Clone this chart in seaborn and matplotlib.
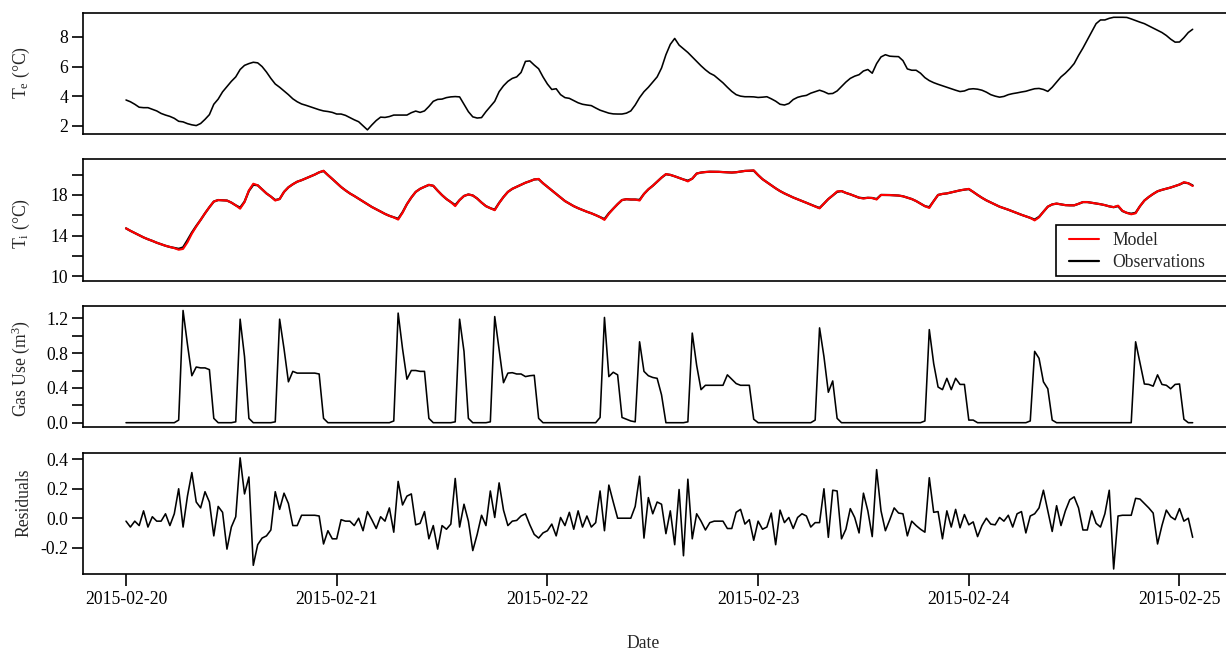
import numpy as np
import pandas as pd
import matplotlib
matplotlib.use("Agg")
import matplotlib.pyplot as plt
from matplotlib.ticker import FixedLocator, FuncFormatter
from matplotlib.patches import Rectangle
import matplotlib.dates as mdates
import seaborn as sns

# ---------------- data (30-minute samples from 2015-02-20 00:00) ----------------
start_time = "2015-02-20 00:00"
step = "30min"

te = [3.74, 3.62, 3.45, 3.25, 3.22, 3.22, 3.11, 3.00, 2.83, 2.72,
      2.63, 2.50, 2.30, 2.26, 2.14, 2.06, 2.01, 2.15, 2.43, 2.75,
      3.45, 3.80, 4.29, 4.65, 5.00, 5.30, 5.80, 6.08, 6.20, 6.29,
      6.25, 6.00, 5.63, 5.20, 4.82, 4.60, 4.35, 4.10, 3.82, 3.62,
      3.47, 3.38, 3.28, 3.18, 3.08, 3.00, 2.96, 2.90, 2.79, 2.79,
      2.70, 2.55, 2.40, 2.27, 2.00, 1.72, 2.05, 2.35, 2.58, 2.56,
      2.62, 2.72, 2.72, 2.72, 2.72, 2.88, 2.99, 2.90, 3.00, 3.30,
      3.65, 3.78, 3.80, 3.90, 3.95, 3.97, 3.95, 3.45, 2.95, 2.60,
      2.52, 2.55, 2.95, 3.30, 3.65, 4.30, 4.70, 5.00, 5.20, 5.30,
      5.60, 6.35, 6.38, 6.10, 5.85, 5.30, 4.82, 4.45, 4.50, 4.10,
      3.90, 3.85, 3.70, 3.55, 3.45, 3.40, 3.36, 3.20, 3.05, 2.95,
      2.85, 2.80, 2.79, 2.79, 2.85, 3.00, 3.40, 3.90, 4.30, 4.60,
      4.95, 5.30, 5.90, 6.80, 7.50, 7.90, 7.45, 7.20, 6.95, 6.65,
      6.35, 6.05, 5.78, 5.55, 5.40, 5.15, 4.90, 4.60, 4.32, 4.10,
      4.00, 3.96, 3.96, 3.95, 3.91, 3.93, 3.96, 3.82, 3.66, 3.45,
      3.40, 3.50, 3.77, 3.92, 4.00, 4.05, 4.20, 4.30, 4.40, 4.30,
      4.16, 4.18, 4.35, 4.65, 4.95, 5.20, 5.35, 5.45, 5.70, 5.80,
      5.55, 6.20, 6.65, 6.80, 6.70, 6.68, 6.67, 6.40, 5.84, 5.75,
      5.75, 5.55, 5.25, 5.05, 4.91, 4.80, 4.70, 4.60, 4.50, 4.40,
      4.31, 4.35, 4.47, 4.50, 4.47, 4.40, 4.27, 4.10, 4.00, 3.93,
      3.98, 4.10, 4.17, 4.22, 4.28, 4.33, 4.42, 4.50, 4.52, 4.45,
      4.32, 4.60, 4.95, 5.30, 5.55, 5.85, 6.20, 6.75, 7.25, 7.80,
      8.35, 8.90, 9.15, 9.15, 9.26, 9.33, 9.33, 9.33, 9.32, 9.22,
      9.11, 9.00, 8.90, 8.75, 8.60, 8.45, 8.30, 8.10, 7.85, 7.65,
      7.66, 7.95, 8.30, 8.52]

ti_obs = [14.72, 14.48, 14.26, 14.04, 13.83, 13.65, 13.49, 13.31, 13.16, 13.01,
          12.89, 12.80, 12.71, 12.85, 13.55, 14.30, 14.95, 15.55, 16.20, 16.80,
          17.35, 17.50, 17.47, 17.45, 17.25, 16.98, 16.75, 17.34, 18.40, 19.00,
          18.95, 18.55, 18.15, 17.84, 17.50, 17.60, 18.30, 18.75, 19.05, 19.30,
          19.45, 19.63, 19.80, 20.00, 20.22, 20.35, 19.95, 19.57, 19.17, 18.78,
          18.45, 18.15, 17.90, 17.63, 17.37, 17.10, 16.82, 16.60, 16.37, 16.14,
          15.95, 15.80, 15.66, 16.30, 17.10, 17.75, 18.30, 18.60, 18.80, 18.98,
          18.90, 18.42, 17.98, 17.60, 17.30, 17.00, 17.50, 17.90, 18.05, 17.95,
          17.65, 17.25, 16.90, 16.70, 16.55, 17.22, 17.80, 18.30, 18.60, 18.80,
          19.00, 19.20, 19.35, 19.52, 19.55, 19.15, 18.80, 18.45, 18.10, 17.75,
          17.40, 17.15, 16.90, 16.70, 16.52, 16.35, 16.20, 16.02, 15.82, 15.63,
          16.20, 16.65, 17.10, 17.50, 17.58, 17.55, 17.55, 17.52, 18.10, 18.55,
          18.90, 19.30, 19.70, 20.03, 19.97, 19.83, 19.67, 19.52, 19.40, 19.60,
          20.10, 20.20, 20.25, 20.28, 20.28, 20.27, 20.24, 20.22, 20.20, 20.23,
          20.30, 20.36, 20.38, 20.39, 19.95, 19.55, 19.25, 18.95, 18.65, 18.38,
          18.15, 17.95, 17.75, 17.58, 17.40, 17.23, 17.05, 16.88, 16.72, 17.15,
          17.60, 17.95, 18.30, 18.38, 18.20, 18.06, 17.90, 17.73, 17.68, 17.72,
          17.70, 17.60, 18.00, 18.00, 17.99, 17.96, 17.94, 17.87, 17.73, 17.60,
          17.40, 17.15, 16.90, 16.80, 17.40, 18.00, 18.10, 18.15, 18.25, 18.35,
          18.45, 18.52, 18.57, 18.30, 18.00, 17.72, 17.47, 17.26, 17.05, 16.85,
          16.70, 16.55, 16.38, 16.22, 16.05, 15.90, 15.75, 15.58, 15.85, 16.35,
          16.85, 17.07, 17.15, 17.08, 17.00, 16.98, 16.98, 17.13, 17.30, 17.30,
          17.23, 17.16, 17.09, 17.00, 16.88, 16.80, 16.90, 16.42, 16.24, 16.16,
          16.25, 16.90, 17.45, 17.80, 18.10, 18.36, 18.50, 18.62, 18.73, 18.88,
          19.02, 19.22, 19.15, 18.93]

ti_model = [14.72, 14.48, 14.26, 14.04, 13.83, 13.65, 13.49, 13.31, 13.16, 13.01,
            12.89, 12.78, 12.62, 12.70, 13.35, 14.20, 14.90, 15.55, 16.20, 16.80,
            17.35, 17.50, 17.47, 17.45, 17.25, 16.98, 16.65, 17.30, 18.45, 19.10,
            18.95, 18.55, 18.15, 17.84, 17.45, 17.60, 18.30, 18.75, 19.05, 19.30,
            19.45, 19.63, 19.80, 20.00, 20.22, 20.38, 19.95, 19.57, 19.17, 18.78,
            18.45, 18.15, 17.90, 17.63, 17.37, 17.10, 16.82, 16.60, 16.37, 16.14,
            15.95, 15.80, 15.58, 16.25, 17.10, 17.75, 18.30, 18.60, 18.80, 19.00,
            18.90, 18.42, 17.98, 17.60, 17.30, 16.90, 17.50, 17.90, 18.05, 17.95,
            17.65, 17.25, 16.90, 16.70, 16.50, 17.20, 17.80, 18.30, 18.60, 18.80,
            19.00, 19.20, 19.35, 19.52, 19.58, 19.15, 18.80, 18.45, 18.10, 17.75,
            17.40, 17.15, 16.90, 16.70, 16.52, 16.35, 16.20, 16.02, 15.82, 15.55,
            16.15, 16.65, 17.10, 17.50, 17.58, 17.55, 17.55, 17.45, 18.10, 18.55,
            18.90, 19.30, 19.70, 20.05, 19.97, 19.83, 19.67, 19.52, 19.33, 19.60,
            20.10, 20.20, 20.25, 20.28, 20.28, 20.27, 20.24, 20.22, 20.20, 20.23,
            20.30, 20.36, 20.38, 20.42, 19.95, 19.55, 19.25, 18.95, 18.65, 18.38,
            18.15, 17.95, 17.75, 17.58, 17.40, 17.23, 17.05, 16.88, 16.68, 17.15,
            17.60, 17.95, 18.35, 18.38, 18.20, 18.06, 17.90, 17.73, 17.65, 17.72,
            17.70, 17.55, 18.00, 18.00, 17.99, 17.96, 17.94, 17.87, 17.73, 17.60,
            17.40, 17.15, 16.90, 16.72, 17.40, 18.00, 18.10, 18.15, 18.25, 18.35,
            18.45, 18.52, 18.60, 18.30, 18.00, 17.72, 17.47, 17.26, 17.05, 16.85,
            16.70, 16.55, 16.38, 16.22, 16.05, 15.90, 15.75, 15.50, 15.80, 16.35,
            16.85, 17.07, 17.15, 17.08, 17.00, 16.98, 16.98, 17.13, 17.30, 17.30,
            17.23, 17.16, 17.09, 17.00, 16.88, 16.80, 16.95, 16.45, 16.24, 16.10,
            16.20, 16.90, 17.45, 17.80, 18.10, 18.36, 18.50, 18.62, 18.73, 18.88,
            19.02, 19.25, 19.15, 18.88]

gas = [0, 0, 0, 0, 0, 0, 0, 0, 0, 0,
       0, 0, 0.03, 1.29, 0.90, 0.54, 0.64, 0.63, 0.63, 0.61,
       0.05, 0, 0, 0, 0, 0.01, 1.19, 0.76, 0.05, 0,
       0, 0, 0, 0, 0.01, 1.19, 0.85, 0.47, 0.59, 0.57,
       0.57, 0.57, 0.57, 0.57, 0.56, 0.05, 0, 0, 0, 0,
       0, 0, 0, 0, 0, 0, 0, 0, 0, 0,
       0, 0.02, 1.26, 0.85, 0.50, 0.60, 0.60, 0.59, 0.59, 0.05,
       0, 0, 0, 0, 0, 0.01, 1.19, 0.82, 0.05, 0,
       0, 0, 0, 0.01, 1.22, 0.84, 0.46, 0.57, 0.575, 0.56,
       0.56, 0.53, 0.54, 0.545, 0.05, 0, 0, 0, 0, 0,
       0, 0, 0, 0, 0, 0, 0, 0, 0.06, 1.21,
       0.53, 0.58, 0.55, 0.06, 0.04, 0.02, 0.01, 0.93, 0.59, 0.54,
       0.52, 0.51, 0.32, 0, 0, 0, 0, 0, 0.01, 1.03,
       0.66, 0.38, 0.43, 0.43, 0.43, 0.43, 0.43, 0.55, 0.50, 0.45,
       0.43, 0.43, 0.43, 0.04, 0, 0, 0, 0, 0, 0,
       0, 0, 0, 0, 0, 0, 0, 0.03, 1.09, 0.76,
       0.35, 0.48, 0.05, 0, 0, 0, 0, 0, 0, 0,
       0, 0, 0, 0, 0, 0, 0, 0, 0, 0,
       0, 0, 0.02, 1.07, 0.68, 0.41, 0.38, 0.51, 0.38, 0.51,
       0.44, 0.44, 0.03, 0.03, 0, 0, 0, 0, 0, 0,
       0, 0, 0, 0, 0, 0, 0.02, 0.82, 0.74, 0.47,
       0.39, 0.03, 0, 0, 0, 0, 0, 0, 0, 0,
       0, 0, 0, 0, 0, 0, 0, 0, 0, 0,
       0.93, 0.69, 0.445, 0.44, 0.42, 0.55, 0.44, 0.43, 0.39, 0.44,
       0.445, 0.04, 0, 0]

resid = [-0.02, -0.06, -0.02, -0.05, 0.05, -0.06, 0.01, -0.02, -0.02, 0.03,
         -0.05, 0.03, 0.20, -0.06, 0.15, 0.31, 0.11, 0.07, 0.18, 0.11,
         -0.12, 0.08, 0.04, -0.21, -0.06, 0.01, 0.41, 0.165, 0.28, -0.32,
         -0.18, -0.135, -0.12, -0.08, 0.18, 0.06, 0.17, 0.10, -0.05, -0.05,
         0.02, 0.02, 0.02, 0.02, 0.015, -0.175, -0.085, -0.14, -0.14, -0.01,
         -0.02, -0.02, -0.05, 0.0, -0.085, 0.045, -0.01, -0.07, 0.01, -0.02,
         0.07, -0.095, 0.25, 0.09, 0.15, 0.165, -0.045, -0.035, 0.045, -0.14,
         -0.05, -0.21, -0.05, -0.075, -0.04, 0.27, -0.06, 0.095, -0.02, -0.22,
         -0.11, 0.02, -0.05, 0.185, 0.005, 0.24, 0.055, -0.05, -0.02, -0.015,
         0.015, 0.03, -0.045, -0.11, -0.135, -0.10, -0.085, -0.04, -0.12, 0.005,
         -0.05, 0.04, -0.075, 0.05, -0.06, 0.015, -0.06, -0.03, 0.185, -0.085,
         0.225, 0.11, 0.0, 0.0, 0.0, 0.0, 0.08, 0.285, -0.135, 0.14,
         0.03, 0.11, 0.095, -0.105, 0.05, -0.18, 0.195, -0.255, 0.265, -0.14,
         0.03, -0.02, -0.08, -0.03, -0.02, -0.02, -0.02, -0.07, -0.07, 0.04,
         0.06, -0.04, -0.01, -0.15, -0.02, -0.075, -0.06, 0.035, -0.18, 0.055,
         -0.03, 0.005, -0.07, 0.005, 0.03, 0.015, -0.06, -0.03, -0.03, 0.20,
         -0.13, 0.19, 0.185, -0.14, -0.075, 0.065, 0.005, -0.10, 0.17, 0.05,
         -0.125, 0.33, 0.05, -0.085, -0.01, 0.07, 0.035, 0.03, -0.12, -0.02,
         -0.05, -0.075, -0.095, 0.275, 0.04, 0.045, -0.14, 0.05, -0.06, 0.06,
         -0.065, 0.025, -0.045, -0.025, -0.125, -0.05, 0.0, -0.04, -0.045, 0.005,
         -0.02, 0.02, -0.06, 0.03, 0.045, -0.10, 0.015, 0.03, 0.07, 0.19,
         0.05, -0.09, 0.085, -0.05, 0.05, 0.125, 0.145, 0.07, -0.08, -0.08,
         0.05, -0.035, -0.06, 0.03, 0.19, -0.345, 0.015, 0.02, 0.02, 0.02,
         0.135, 0.13, 0.10, 0.07, 0.035, -0.175, -0.05, 0.055, 0.01, -0.01,
         0.065, -0.02, 0.0, -0.13]

date_ticks = ["2015-02-20", "2015-02-21", "2015-02-22", "2015-02-23", "2015-02-24", "2015-02-25"]

te_label = r"T$_\mathrm{e}$ (°C)"
ti_label = r"T$_\mathrm{i}$ (°C)"
gas_label = r"Gas Use (m$^\mathrm{3}$)"
res_label = "Residuals"
x_label = "Date"
legend_labels = ["Model", "Observations"]

# ---------------- build frame ----------------
times = pd.date_range(start_time, periods=len(te), freq=step)
df = pd.DataFrame({"Date": times, "Te": te, "TiObs": ti_obs, "TiModel": ti_model,
                   "Gas": gas, "Resid": resid})

sns.set_style("ticks")
plt.rcParams["font.family"] = ["Liberation Serif", "DejaVu Serif"]
plt.rcParams["mathtext.fontset"] = "custom"
plt.rcParams["mathtext.rm"] = "Liberation Serif"
plt.rcParams["mathtext.it"] = "Liberation Serif:italic"
plt.rcParams["axes.linewidth"] = 1.2

FS = 12.7
W, H = 1226, 651
LEFT, RIGHT = 83, 1240      # axes run past the right edge of the image
fig = plt.figure(figsize=(W / 100, H / 100), dpi=100)


def rect(top, bottom, left=LEFT, right=RIGHT):
    return [left / W, 1 - bottom / H, (right - left) / W, (bottom - top) / H]


panels = [(13, 134.3), (159.3, 280.7), (305.7, 426.7), (452.7, 574)]
axes = [fig.add_axes(rect(t, b)) for t, b in panels]
ax1, ax2, ax3, ax4 = axes

LW = 1.15
sns.lineplot(data=df, x="Date", y="Te", ax=ax1, color="black", linewidth=LW)
sns.lineplot(data=df, x="Date", y="TiObs", ax=ax2, color="black", linewidth=1.6,
             label=legend_labels[1])
sns.lineplot(data=df, x="Date", y="TiModel", ax=ax2, color="#ff0000", linewidth=1.5,
             label=legend_labels[0])
sns.lineplot(data=df, x="Date", y="Gas", ax=ax3, color="black", linewidth=LW)
sns.lineplot(data=df, x="Date", y="Resid", ax=ax4, color="black", linewidth=LW)

t0 = pd.Timestamp(date_ticks[0])
px_per_day = 210.7
xmin = t0 - pd.Timedelta(days=(126 - LEFT) / px_per_day)
xmax = t0 + pd.Timedelta(days=(RIGHT - 126) / px_per_day)

for ax in axes:
    ax.set_xlim(xmin, xmax)
    for s in ax.spines.values():
        s.set_visible(True)
        s.set_linewidth(1.2)
        s.set_color("black")
    ax.tick_params(axis="y", direction="out", length=8, width=1.2, pad=2.5,
                   labelsize=FS, colors="black")
    ax.set_xlabel("")

for ax in axes[:3]:
    ax.tick_params(axis="x", bottom=False, labelbottom=False)

# y ranges / ticks
ax1.set_ylim(1.42, 9.62)
ax1.yaxis.set_major_locator(FixedLocator([2, 4, 6, 8]))
ax1.yaxis.set_major_formatter(FuncFormatter(lambda v, p: f"{v:.0f}"))

ax2.set_ylim(9.58, 21.5)
ax2.yaxis.set_major_locator(FixedLocator([10, 12, 14, 16, 18, 20]))
ax2.yaxis.set_major_formatter(FuncFormatter(
    lambda v, p: f"{v:.0f}" if int(round(v)) in (10, 14, 18) else ""))

ax3.set_ylim(-0.046, 1.345)
ax3.yaxis.set_major_locator(FixedLocator([0.0, 0.2, 0.4, 0.6, 0.8, 1.0, 1.2]))
ax3.yaxis.set_major_formatter(FuncFormatter(
    lambda v, p: f"{v:.1f}" if int(round(v * 10)) % 4 == 0 else ""))

ax4.set_ylim(-0.379, 0.445)
ax4.yaxis.set_major_locator(FixedLocator([-0.2, 0.0, 0.2, 0.4]))
ax4.yaxis.set_major_formatter(FuncFormatter(lambda v, p: f"{v:.1f}"))

# x ticks on bottom panel
ax4.xaxis.set_major_locator(FixedLocator([mdates.date2num(pd.Timestamp(d)) for d in date_ticks]))
ax4.xaxis.set_major_formatter(mdates.DateFormatter("%Y-%m-%d"))
ax4.tick_params(axis="x", direction="out", length=8.6, width=1.2, pad=3.5,
                labelsize=FS, colors="black")

label_y = [0.51, 0.475, 0.48, 0.59]
for ax, lab, ly in zip(axes, [te_label, ti_label, gas_label, res_label], label_y):
    ax.set_ylabel(lab, fontsize=FS)
    ax.yaxis.set_label_coords(-0.044, ly)

fig.text(643 / W, 1 - 643 / H, x_label, ha="center", va="center", fontsize=FS)

# legend: Model first, then Observations; framed box drawn separately
t2, b2 = panels[1]
def ax2_frac(xp, yp):
    return ((xp - LEFT) / (RIGHT - LEFT), (b2 - yp) / (b2 - t2))

handles, labels = ax2.get_legend_handles_labels()
order = [labels.index(legend_labels[0]), labels.index(legend_labels[1])]
leg = ax2.legend([handles[i] for i in order], [labels[i] for i in order],
                 loc="upper left", bbox_to_anchor=ax2_frac(1069, 232),
                 borderaxespad=0, borderpad=0, frameon=False, fontsize=FS,
                 handlelength=1.72, handletextpad=0.72, labelspacing=0.3)
leg.set_zorder(6)

bx0, by0 = ax2_frac(1056, 276)
bx1, by1 = ax2_frac(1250, 225)
ax2.add_patch(Rectangle((bx0, by0), bx1 - bx0, by1 - by0, transform=ax2.transAxes,
                        facecolor="white", edgecolor="black", linewidth=1.2,
                        zorder=5, clip_on=False))

fig.savefig("out.png", dpi=100)
